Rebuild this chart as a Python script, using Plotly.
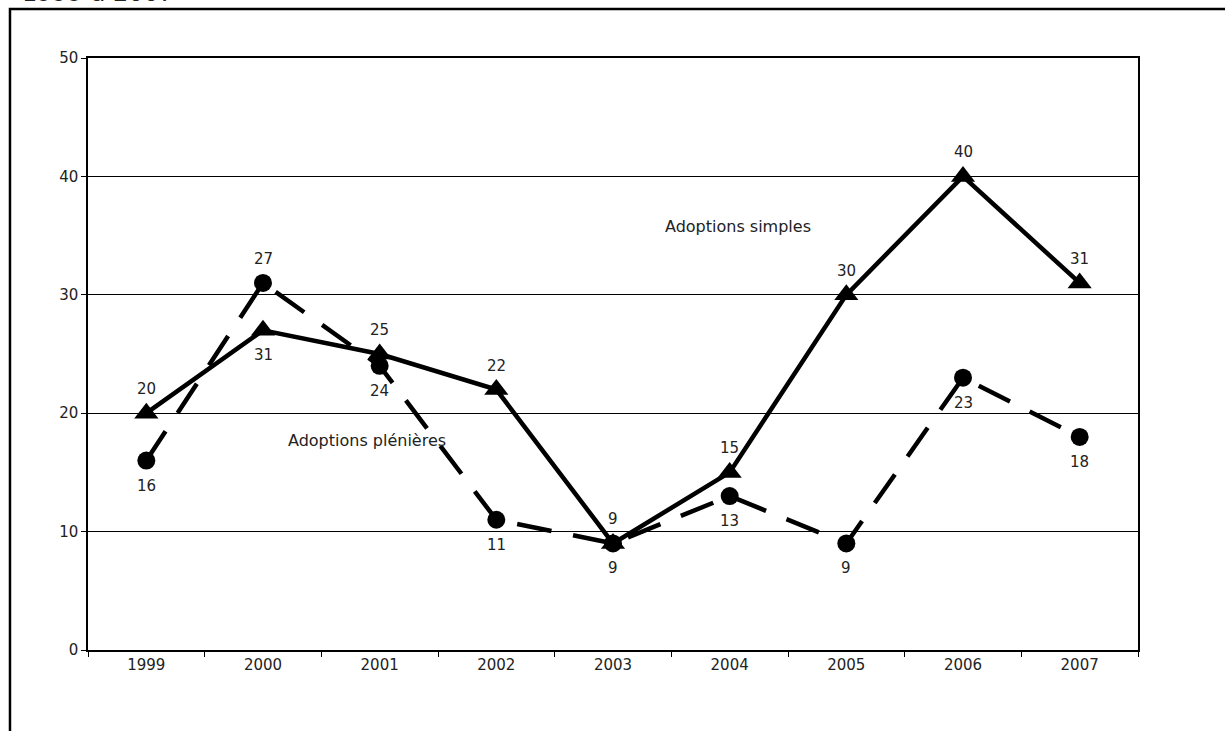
import plotly.graph_objects as go

# Annual counts of adoptions, 1999-2007
years = ["1999", "2000", "2001", "2002", "2003", "2004", "2005", "2006", "2007"]
adoptions_simples = [20, 27, 25, 22, 9, 15, 30, 40, 31]
adoptions_plenieres = [16, 31, 24, 11, 9, 13, 9, 23, 18]
y_ticks = [0, 10, 20, 30, 40, 50]

FONT = "DejaVu Sans"
TXT = "#222222"

fig = go.Figure()

fig.add_trace(go.Scatter(
    x=years, y=adoptions_plenieres, mode="lines+markers",
    line=dict(color="black", width=4.5, dash="35px,22px"),
    marker=dict(symbol="circle", size=18, color="black"),
    name="Adoptions plénières", hoverinfo="skip",
))
fig.add_trace(go.Scatter(
    x=years, y=adoptions_simples, mode="lines+markers",
    line=dict(color="black", width=4.5),
    marker=dict(symbol="triangle-up", size=21, color="black"),
    name="Adoptions simples", hoverinfo="skip",
))

# Value labels: simples above their marker, plénières below.
# In 2000 the two lines cross, so each label sits by the other series' marker.
annotations = []
for i, yr in enumerate(years):
    s, p = adoptions_simples[i], adoptions_plenieres[i]
    s_anchor, p_anchor = s, p
    if yr == "2000":
        s_anchor, p_anchor = p, s
    annotations.append(dict(x=i, y=s_anchor, text=str(s), showarrow=False,
                            yshift=24, font=dict(family=FONT, size=15, color=TXT)))
    annotations.append(dict(x=i, y=p_anchor, text=str(p), showarrow=False,
                            yshift=-25, font=dict(family=FONT, size=15, color=TXT)))

annotations.append(dict(x=5.07, y=35.8, text="Adoptions simples", showarrow=False,
                        font=dict(family=FONT, size=16, color=TXT)))
annotations.append(dict(x=1.89, y=17.7, text="Adoptions plénières", showarrow=False,
                        font=dict(family=FONT, size=16, color=TXT)))
# heading line running off the top of the frame
annotations.append(dict(xref="paper", yref="paper", x=-0.0648, y=1, xanchor="left",
                        yanchor="bottom", yshift=49, text="1999 à 2007", showarrow=False,
                        font=dict(family=FONT, size=24, color=TXT)))

fig.update_layout(
    width=1225, height=731,
    margin=dict(l=88, r=87, t=58, b=81),
    paper_bgcolor="white", plot_bgcolor="white",
    showlegend=False,
    annotations=annotations,
    shapes=[dict(type="rect", xref="paper", yref="paper",
                 x0=-0.0743, x1=1.3, y0=-0.5, y1=1.0828,
                 line=dict(color="black", width=2.5), layer="below")],
)

fig.update_xaxes(
    type="category", range=[-0.5, 8.5], tickson="boundaries",
    ticks="outside", ticklen=5, tickcolor="black", tickwidth=1,
    showline=True, linecolor="black", linewidth=1.5, mirror=True,
    showgrid=False, zeroline=False,
    tickfont=dict(family=FONT, size=15, color=TXT),
)
fig.update_yaxes(
    range=[0, 50], tickvals=y_ticks,
    ticks="outside", ticklen=5, tickcolor="black", tickwidth=1,
    showline=True, linecolor="black", linewidth=1.5, mirror=True,
    showgrid=True, gridcolor="black", gridwidth=1, zeroline=False,
    tickfont=dict(family=FONT, size=15, color=TXT),
)

fig.write_html("out.html")
